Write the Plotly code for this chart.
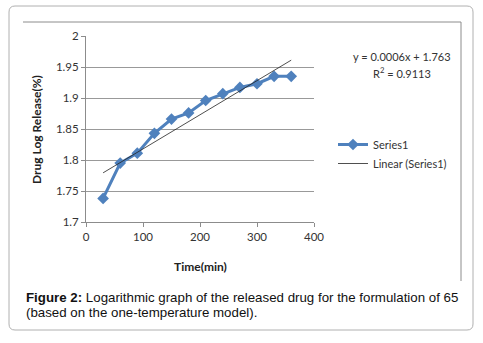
import numpy as np
import plotly.graph_objects as go

# Data
time_min = [30, 60, 90, 120, 150, 180, 210, 240, 270, 300, 330, 360]
log_release = [1.738, 1.795, 1.811, 1.843, 1.866, 1.876, 1.896, 1.907, 1.917, 1.923, 1.935, 1.935]
y_ticks = [1.7, 1.75, 1.8, 1.85, 1.9, 1.95, 2.0]
y_tick_text = ["1.7", "1.75", "1.8", "1.85", "1.9", "1.95", "2"]
x_ticks = [0, 100, 200, 300, 400]
equation_text = "y = 0.0006x + 1.763"
r2_text = "R<sup>2</sup> = 0.9113"
caption_line1 = "<b>Figure 2:</b> Logarithmic graph of the released drug for the formulation of 65"
caption_line2 = "(based on the one-temperature model)."

slope, intercept = np.polyfit(time_min, log_release, 1)
trend_x = [min(time_min), max(time_min)]
trend_y = [slope * x + intercept for x in trend_x]

W, H = 483, 343
L, R, T, B = 86, 169, 36, 121
PW, PH = W - L - R, H - T - B


def px(x):
    return (x - L) / PW


def py(y):
    return (H - B - y) / PH


fig = go.Figure()
fig.add_trace(go.Scatter(
    x=time_min, y=log_release, mode="lines+markers", name="Series1",
    line=dict(color="#4F81BD", width=3),
    marker=dict(symbol="diamond", size=9, color="#4F81BD"),
))
fig.add_trace(go.Scatter(
    x=trend_x, y=trend_y, mode="lines", name="Linear (Series1)",
    line=dict(color="#222222", width=0.8),
))

chart_font = "Lato, 'Open Sans', sans-serif"

fig.update_layout(
    width=W, height=H,
    margin=dict(l=L, r=R, t=T, b=B),
    paper_bgcolor="white", plot_bgcolor="white",
    font=dict(family=chart_font, size=11, color="#333333"),
    xaxis=dict(range=[0, 400], tickvals=x_ticks, showgrid=False, zeroline=False,
               showline=True, linecolor="#8c8c8c", linewidth=1,
               ticks="outside", ticklen=4, tickcolor="#8c8c8c",
               tickfont=dict(size=11.5, color="#333333")),
    yaxis=dict(range=[1.7, 2.0], tickvals=y_ticks, ticktext=y_tick_text,
               showgrid=True, gridcolor="#999999", gridwidth=1, zeroline=False,
               showline=True, linecolor="#8c8c8c", linewidth=1,
               ticks="outside", ticklen=4, tickcolor="#8c8c8c",
               tickfont=dict(size=11.5, color="#333333")),
    legend=dict(x=px(333), y=py(130), xanchor="left", yanchor="top",
                font=dict(size=11, color="#333333", family=chart_font),
                bgcolor="rgba(0,0,0,0)", tracegroupgap=4, itemwidth=30),
    showlegend=True,
)


def note(x, y, text, size=11, color="#333333", family=chart_font, **kw):
    fig.add_annotation(x=px(x), y=py(y), xref="paper", yref="paper",
                       text=text, showarrow=False,
                       font=dict(size=size, color=color, family=family), **kw)


# Axis titles
note(36, 130, "<b>Drug Log Release(%)</b>", size=12, color="#222222",
     textangle=-90, xanchor="center", yanchor="middle")
note(200, 266, "<b>Time(min)</b>", size=12, color="#222222",
     xanchor="center", yanchor="middle")

# Trendline equation
note(402, 56, equation_text, xanchor="center", yanchor="middle")
note(402, 72, r2_text, xanchor="center", yanchor="middle")

# Caption
cap_font = "'Liberation Sans', Arial, sans-serif"
note(24, 297, caption_line1, size=13.3, color="#111111", family=cap_font,
     xanchor="left", yanchor="middle")
note(24, 312, caption_line2, size=13.3, color="#111111", family=cap_font,
     xanchor="left", yanchor="middle")

# Outer rounded box
x0, y0, x1, y1, r = 9, 6, 473, 330, 6
path = (f"M {px(x0 + r)},{py(y0)} L {px(x1 - r)},{py(y0)} "
        f"Q {px(x1)},{py(y0)} {px(x1)},{py(y0 + r)} L {px(x1)},{py(y1 - r)} "
        f"Q {px(x1)},{py(y1)} {px(x1 - r)},{py(y1)} L {px(x0 + r)},{py(y1)} "
        f"Q {px(x0)},{py(y1)} {px(x0)},{py(y1 - r)} L {px(x0)},{py(y0 + r)} "
        f"Q {px(x0)},{py(y0)} {px(x0 + r)},{py(y0)} Z")
fig.add_shape(type="path", path=path, xref="paper", yref="paper",
              line=dict(color="#b0b0b0", width=1), layer="below")

# Inner chart frame (top and right edges)
fig.add_shape(type="line", xref="paper", yref="paper",
              x0=px(23), y0=py(22), x1=px(461), y1=py(22),
              line=dict(color="#8c8c8c", width=1))
fig.add_shape(type="line", xref="paper", yref="paper",
              x0=px(461), y0=py(22), x1=px(461), y1=py(281),
              line=dict(color="#8c8c8c", width=1))

fig.write_html("out.html", config={"displayModeBar": False},
               post_script="document.body.style.margin='0';")
